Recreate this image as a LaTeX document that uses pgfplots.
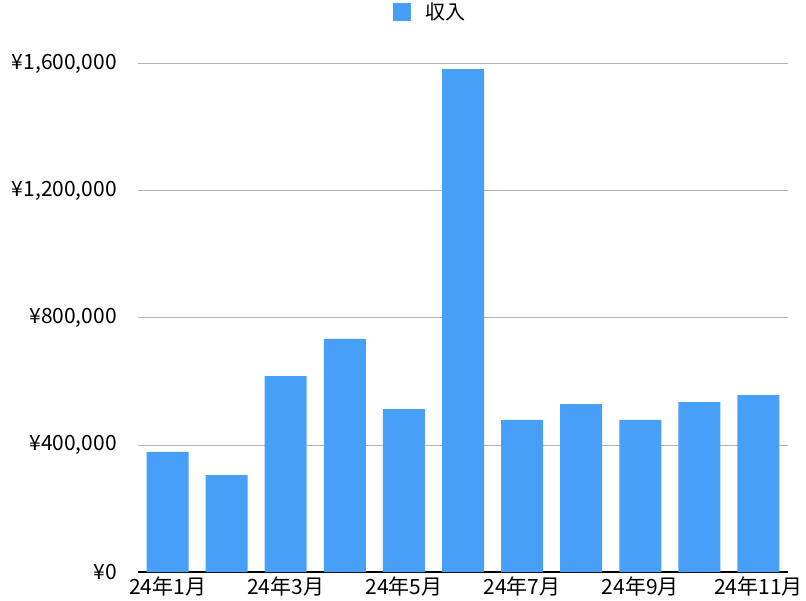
\documentclass[border=0pt]{standalone}
\usepackage{fontspec}
\setmainfont{Noto Sans CJK JP}
\usepackage{pgfplots}
\pgfplotsset{compat=1.18}
\definecolor{barblue}{HTML}{489FF8}
\definecolor{gridgray}{HTML}{B3B3B3}
\begin{document}
\begin{tikzpicture}
\begin{axis}[
  scale only axis,
  width=650pt, height=508pt,
  xmin=-0.5, xmax=10.5,
  ymin=0, ymax=1600000,
  scaled y ticks=false,
  ybar, bar width=42pt, bar shift=0pt,
  axis x line*=bottom,
  axis y line*=left,
  y axis line style={draw=none},
  x axis line style={line width=1.5pt, black, -},
  xtick={0,2,4,6,8,10},
  xticklabels={24年1月,24年3月,24年5月,24年7月,24年9月,24年11月},
  major tick length=0pt,
  ytick={0,400000,800000,1200000,1600000},
  yticklabels={¥0,¥400{,}000,¥800{,}000,¥1{,}200{,}000,¥1{,}600{,}000},
  ymajorgrids,
  y grid style={gridgray, line width=1pt},
  tick label style={font=\fontsize{21}{24}\selectfont, inner sep=0pt},
  yticklabel style={anchor=east, xshift=-21pt},
  xticklabel style={anchor=north, yshift=-5pt},
  legend style={draw=none, at={(0.45,1.102)}, anchor=center,
    font=\fontsize{20}{23}\selectfont,
    /tikz/every odd column/.style={column sep=12pt}},
  legend image code/.code={\fill[barblue] (0pt,-9pt) rectangle (18pt,9pt);},
  clip=false,
]
\addplot[fill=barblue, draw=none] coordinates {
(0,378000) (1,305000) (2,617000) (3,734000) (4,513000) (5,1584000)
(6,479000) (7,529000) (8,479000) (9,535000) (10,557000)};
\addlegendentry{収入}
\end{axis}
\pgfresetboundingbox
\path (-138pt,-28pt) rectangle (668pt,572pt);
\end{tikzpicture}
\end{document}
